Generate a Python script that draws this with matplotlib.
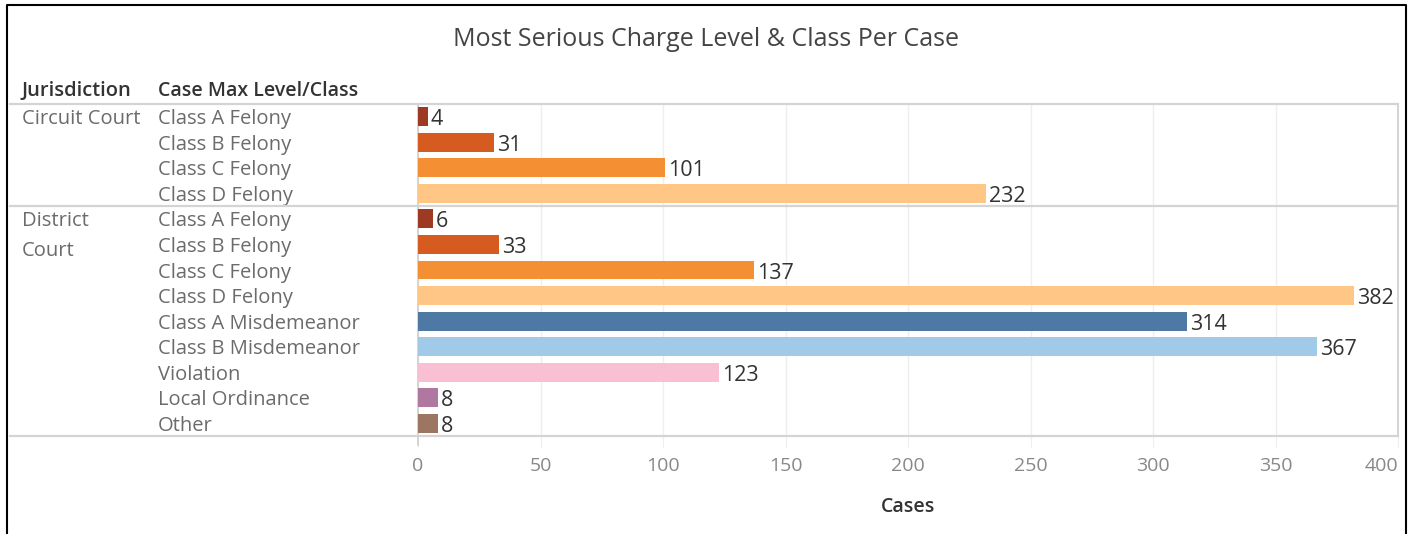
import matplotlib.pyplot as plt
from matplotlib.lines import Line2D

plt.rcParams['font.family'] = ['Open Sans', 'DejaVu Sans']

jurisdictions = ['Circuit Court', 'District\nCourt']
jur_rows = [0, 4]
classes = [
    'Class A Felony', 'Class B Felony', 'Class C Felony', 'Class D Felony',
    'Class A Felony', 'Class B Felony', 'Class C Felony', 'Class D Felony',
    'Class A Misdemeanor', 'Class B Misdemeanor', 'Violation',
    'Local Ordinance', 'Other',
]
cases = [4, 31, 101, 232, 6, 33, 137, 382, 314, 367, 123, 8, 8]
color_map = {
    'Class A Felony': '#9c3a23',
    'Class B Felony': '#d55b21',
    'Class C Felony': '#f48f33',
    'Class D Felony': '#ffc685',
    'Class A Misdemeanor': '#4e79a5',
    'Class B Misdemeanor': '#a0cae7',
    'Violation': '#f9c0d3',
    'Local Ordinance': '#b077a0',
    'Other': '#9c7660',
}
xticks = [0, 50, 100, 150, 200, 250, 300, 350, 400]

fig = plt.figure(figsize=(14.11, 5.34), dpi=100)
ax = fig.add_axes([418 / 1411, 1 - 436 / 534, 980 / 1411, 332 / 534])

rows = list(range(len(cases)))
ax.barh(rows, cases, height=0.74, color=[color_map[c] for c in classes], zorder=3)
ax.set_ylim(len(cases) - 0.5, -0.5)
ax.set_xlim(0, 400)

for r, v in zip(rows, cases):
    ax.text(v + 1.2, r + 0.12, str(v), va='center', ha='left', fontsize=15.5,
            color='#333333', zorder=4)

# row labels
ytr = ax.get_yaxis_transform()
lab = dict(transform=ytr, ha='left', va='center', fontsize=14.5, color='#6b6b6b')
for r, c in zip(rows, classes):
    ax.text((158 - 418) / 980, r + 0.1, c, **lab)
ax.text((22 - 418) / 980, 0.1, jurisdictions[0], **lab)
ax.text((22 - 418) / 980, 4.1, 'District', **lab)
ax.text((22 - 418) / 980, 5.25, 'Court', **lab)

# headers
fig.text(22 / 1411, 1 - 91 / 534, 'Jurisdiction', fontsize=14.5, weight='semibold',
         color='#333333', va='center')
fig.text(158 / 1411, 1 - 91 / 534, 'Case Max Level/Class', fontsize=14,
         weight='semibold', color='#333333', va='center')

fig.text(706 / 1411, 1 - 39 / 534, 'Most Serious Charge Level & Class Per Case',
         fontsize=18, color='#444444', ha='center', va='center')

# separator lines
for yv in [-0.5, 3.5, len(cases) - 0.5]:
    ax.plot([(10 - 418) / 980, 1], [yv, yv], transform=ytr, color='#d4d4d4',
            lw=1.6, clip_on=False, zorder=5)

ax.set_yticks([])
ax.set_xticks(xticks)
ax.tick_params(axis='x', length=8, color='#eeeeee', labelsize=14,
               labelcolor='#888888', pad=7)
ax.get_xticklabels()[-1].set_horizontalalignment('right')
ax.grid(axis='x', color='#eeeeee', lw=1, zorder=0)
for s in ax.spines.values():
    s.set_color('#d4d4d4')
    s.set_linewidth(1.4)
ax.spines['left'].set_bounds(len(cases) - 0.5 + 0.35, -0.5)
ax.set_xlabel('Cases', fontsize=14, weight='semibold', color='#333333', labelpad=16)

# outer frame
fig.add_artist(Line2D([7 / 1411, 7 / 1411, 1406 / 1411, 1406 / 1411],
                      [0, 1 - 5 / 534, 1 - 5 / 534, 0], color='black', lw=1.5))

fig.savefig('out.png', dpi=100)
